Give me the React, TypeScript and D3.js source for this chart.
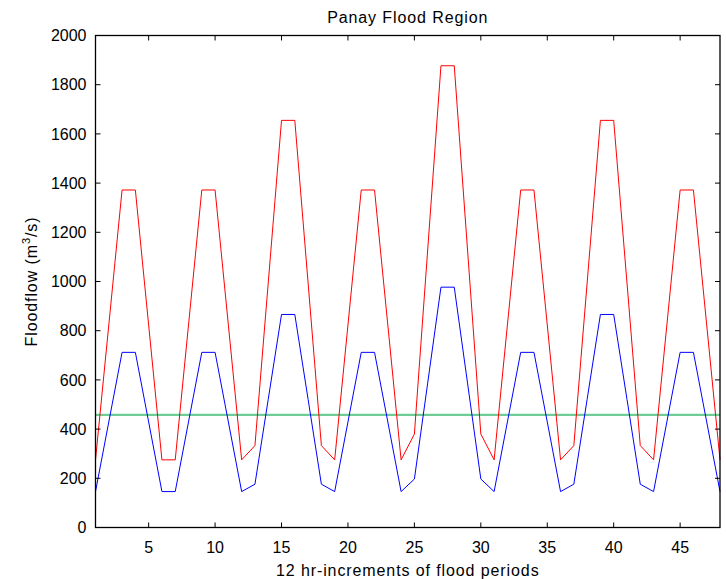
import React from "react";
import * as d3 from "d3";

const periods = [1,2,3,4,5,6,7,8,9,10,11,12,13,14,15,16,17,18,19,20,21,22,23,24,25,26,27,28,29,30,31,32,33,34,35,36,37,38,39,40,41,42,43,44,45,46,47,48];

const redFlow = [275,823,1372,1372,823,275,275,823,1372,1372,823,275,333,994,1655,1655,994,333,275,823,1372,1372,823,275,380,1128,1877,1877,1128,380,275,823,1372,1372,823,275,333,994,1655,1655,994,333,275,823,1372,1372,823,275];

const blueFlow = [146,429,712,712,429,146,146,429,712,712,429,146,176,521,866,866,521,176,146,429,712,712,429,146,197,587,977,977,587,197,146,429,712,712,429,146,176,521,866,866,521,176,146,429,712,712,429,146];

const greenLevel = [458, 458];
const greenX = [1, 48];

const xTicks = [5,10,15,20,25,30,35,40,45];
const yTicks = [0,200,400,600,800,1000,1200,1400,1600,1800,2000];

const title = "Panay Flood Region";
const xLabel = "12 hr-increments of flood periods";

export default function App() {
  const W = 726, H = 579;
  const left = 95.5, right = 720, top = 35.5, bottom = 527.5;
  const x = d3.scaleLinear().domain([1, 48]).range([left, right]);
  const y = d3.scaleLinear().domain([0, 2000]).range([bottom, top]);
  const line = d3.line<[number, number]>().x(d => x(d[0])).y(d => y(d[1]));
  const redPts = periods.map((p, i) => [p, redFlow[i]] as [number, number]);
  const bluePts = periods.map((p, i) => [p, blueFlow[i]] as [number, number]);
  const greenPts = greenX.map((p, i) => [p, greenLevel[i]] as [number, number]);
  const tl = 5;
  const font = "Liberation Sans, Arial, sans-serif";
  return (
    <svg width={W} height={H} style={{ position: "absolute", left: 0, top: 0, background: "#fff" }} fontFamily={font}>
      <rect x={0} y={0} width={W} height={H} fill="#fff" />
      <path d={line(greenPts) || ""} fill="none" stroke="rgb(110,205,150)" strokeWidth={2.2} />
      <path d={line(redPts) || ""} fill="none" stroke="#ff0000" strokeWidth={1} />
      <path d={line(bluePts) || ""} fill="none" stroke="#0000ff" strokeWidth={1} />
      <rect x={left} y={top} width={right - left} height={bottom - top} fill="none" stroke="#000" strokeWidth={1.3} />
      {xTicks.map(t => (
        <g key={"x" + t}>
          <line x1={x(t)} x2={x(t)} y1={bottom} y2={bottom - tl} stroke="#000" />
          <line x1={x(t)} x2={x(t)} y1={top} y2={top + tl} stroke="#000" />
          <text x={x(t)} y={bottom + 25} textAnchor="middle" fontSize={16}>{t}</text>
        </g>
      ))}
      {yTicks.map(t => (
        <g key={"y" + t}>
          <line x1={left} x2={left + tl} y1={y(t)} y2={y(t)} stroke="#000" />
          <line x1={right} x2={right - tl} y1={y(t)} y2={y(t)} stroke="#000" />
          <text x={left - 9} y={y(t)} dy="0.35em" textAnchor="end" fontSize={16}>{t}</text>
        </g>
      ))}
      <text x={(left + right) / 2} y={23} textAnchor="middle" fontSize={16} letterSpacing={0.9}>{title}</text>
      <text x={(left + right) / 2} y={576} textAnchor="middle" fontSize={16} letterSpacing={0.9}>{xLabel}</text>
      <text transform={`translate(37,${(top + bottom) / 2}) rotate(-90)`} textAnchor="middle" fontSize={16} letterSpacing={0.9}>
        Floodflow (m<tspan dy={-7} fontSize={11}>3</tspan><tspan dy={7}>/s)</tspan>
      </text>
    </svg>
  );
}
